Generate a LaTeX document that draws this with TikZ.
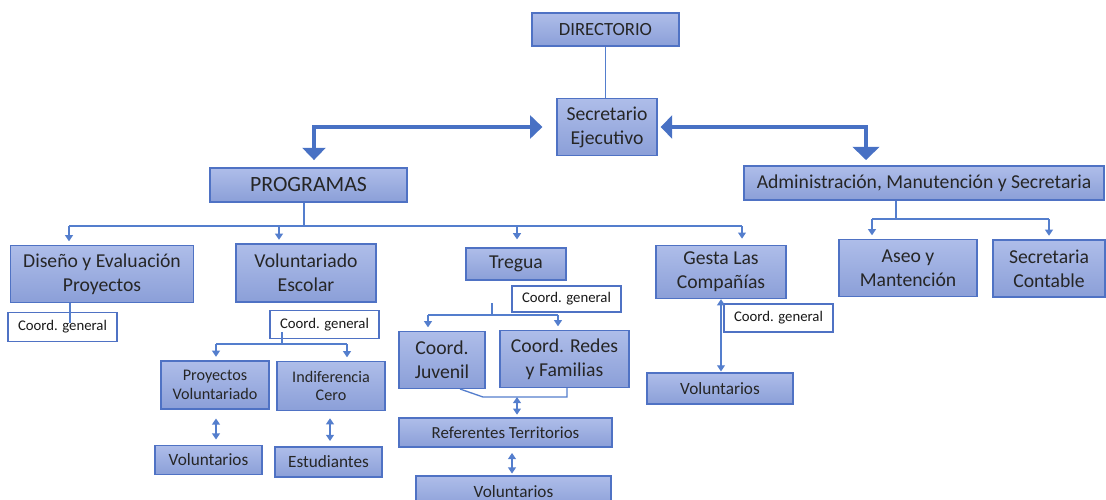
\documentclass[tikz,border=0pt]{standalone}
\usepackage{fontspec}
\setmainfont{Carlito}
\usetikzlibrary{arrows.meta}
\definecolor{boxline}{RGB}{79,114,196}
\definecolor{boxtop}{RGB}{174,189,233}
\definecolor{boxbot}{RGB}{139,159,216}
\definecolor{wire}{RGB}{84,126,205}
\definecolor{bigwire}{RGB}{72,113,196}

\begin{document}
\begin{tikzpicture}[x=0.02cm, y=-0.02cm,
    unit/.style ={draw=boxline, line width=0.8pt, top color=boxtop, bottom color=boxbot,
                  align=center, inner sep=1pt, text=black!85, font=\fontsize{11.2}{13.6}\selectfont},
    coord/.style ={draw=boxline, line width=0.8pt, fill=white, minimum width=2.18cm,
                   inner sep=1pt, text=black!90, font=\fontsize{8.4}{10}\selectfont},
    link/.style ={draw=wire, line width=0.75pt},
    onearrow/.style ={link, shorten >=2pt, -{Triangle[width=4.5pt,length=3.5pt]}},
    twoarrow/.style ={link, {Triangle[width=4.5pt,length=3.5pt]}-{Triangle[width=4.5pt,length=3.5pt]}},
    trunk/.style ={draw=bigwire, line width=2.2pt,
                   {Triangle[width=13pt,length=7pt]}-{Triangle[width=13pt,length=7pt]}}]
   \useasboundingbox (0,0) rectangle (1106,500);

   % top level
   \node[unit, minimum width=2.94cm, minimum height=0.66cm, font=\fontsize{10.6}{12}\selectfont] (dir) at (605.5,29.5) {DIRECTORIO};
   \node[unit, minimum width=2.0cm, minimum height=1.14cm] (sec) at (607,127) {Secretario\\Ejecutivo};
   \node[unit, minimum width=3.94cm, minimum height=0.68cm, font=\fontsize{12.4}{14}\selectfont] (prog) at (308.5,185) {PROGRAMAS};
   \node[unit, minimum width=7.2cm, minimum height=0.68cm] (adm) at (924,183) {Administración, Manutención y Secretaria};

   % programas
   \node[unit, minimum width=3.66cm, minimum height=1.14cm] (dis) at (102,274) {Diseño y Evaluación\\Proyectos};
   \node[unit, minimum width=2.8cm, minimum height=1.16cm] (vol) at (306,273) {Voluntariado\\Escolar};
   \node[unit, minimum width=2.0cm, minimum height=0.64cm] (tre) at (516,264) {Tregua};
   \node[unit, minimum width=2.6cm, minimum height=1.06cm] (ges) at (721,272) {Gesta Las\\Compañías};

   % administracion
   \node[unit, minimum width=2.76cm, minimum height=1.14cm] (ase) at (908,268) {Aseo y\\Mantención};
   \node[unit, minimum width=2.24cm, minimum height=1.14cm] (sct) at (1049,268.5) {Secretaria\\Contable};

   % coordinaciones
   \node[coord, minimum height=0.58cm] (cg1) at (62.5,327) {Coord. general};
   \node[coord, minimum height=0.56cm] (cg2) at (324.5,324.5) {Coord. general};
   \node[coord, minimum height=0.52cm] (cg3) at (566.5,299) {Coord. general};
   \node[coord, minimum height=0.56cm] (cg4) at (778.5,318) {Coord. general};

   % voluntariado escolar
   \node[unit, minimum width=2.16cm, minimum height=0.96cm, font=\fontsize{9.2}{10.4}\selectfont] (pvo) at (215,385) {Proyectos\\Voluntariado};
   \node[unit, minimum width=2.16cm, minimum height=0.98cm, font=\fontsize{9.2}{10.4}\selectfont] (ind) at (331,386) {Indiferencia\\Cero};
   \node[unit, minimum width=2.14cm, minimum height=0.58cm, font=\fontsize{9.8}{11}\selectfont] (vl1) at (208.5,460) {Voluntarios};
   \node[unit, minimum width=2.14cm, minimum height=0.60cm, font=\fontsize{9.8}{11}\selectfont] (est) at (328.5,462) {Estudiantes};

   % tregua
   \node[unit, minimum width=1.72cm, minimum height=1.14cm] (juv) at (442,360) {Coord.\\Juvenil};
   \node[unit, minimum width=2.58cm, minimum height=1.14cm] (red) at (564.5,359) {Coord. Redes\\y Familias};
   \node[unit, minimum width=4.26cm, minimum height=0.58cm, font=\fontsize{9.6}{11}\selectfont] (ref) at (505.5,432.5) {Referentes Territorios};
   \node[unit, minimum width=3.9cm, minimum height=0.64cm, font=\fontsize{9.8}{11}\selectfont] (vl2) at (513.5,492) {Voluntarios};

   % gesta
   \node[unit, minimum width=2.92cm, minimum height=0.62cm, font=\fontsize{9.8}{11}\selectfont] (vl3) at (720,388.5) {Voluntarios};

   \coordinate (pl) at (314,168);
   \coordinate (pr) at (866,166);
   \coordinate (p0) at (304,226);
   \coordinate (p1) at (69,226);
   \coordinate (p2) at (279,226);
   \coordinate (p3) at (517,226);
   \coordinate (p4) at (742,226);
   \coordinate (k1) at (70,323);
   \coordinate (k2) at (282,332);
   \coordinate (k2a) at (216,344);
   \coordinate (k2b) at (347,344);
   \coordinate (k3) at (492,303);
   \coordinate (k3a) at (428,315);
   \coordinate (k3b) at (558,315);
   \coordinate (r1) at (460,389);
   \coordinate (r2) at (483,397);
   \coordinate (r3) at (567,397);
   \coordinate (a0) at (896,219);
   \coordinate (a1) at (872,219);
   \coordinate (a2) at (1049,219);

   \draw[link] (dir) -- (dir |- sec.north);
   \draw[trunk, line width=2pt, shorten <=7.9pt, shorten >=4.5pt] (sec.west) -| (pl);
   \draw[trunk, line width=2.6pt, shorten <=1.7pt, shorten >=3.4pt,
         {Triangle[width=13pt,length=6.5pt]}-{Triangle[width=15pt,length=7.5pt]}] (sec.east) -| (pr);

   \draw[link] (p0 |- prog.south) -- (p0);
   \draw[link] (p1) -- (p4);
   \draw[onearrow] (p1) -- (p1 |- dis.north);
   \draw[onearrow] (p2) -- (p2 |- vol.north);
   \draw[onearrow, shorten >=4.5pt] (p3) -- (p3 |- tre.north);
   \draw[onearrow, shorten >=3.5pt] (p4) -- (p4 |- ges.north);

   \draw[link] (k1 |- dis.south) -- (k1);

   \draw[link] (k2) -- (k2 |- k2a);
   \draw[link] (k2a) -- (k2b);
   \draw[onearrow] (k2a) -- (k2a |- pvo.north);
   \draw[onearrow] (k2b) -- (k2b |- ind.north);
   \draw[twoarrow, shorten <=5pt, shorten >=3pt] (k2a |- pvo.south) -- (k2a |- vl1.north);
   \draw[twoarrow, shorten <=4pt, shorten >=3pt] (330,0 |- ind.south) -- (330,0 |- est.north);

   \draw[link] (k3) -- (k3 |- k3a);
   \draw[link] (k3a) -- (k3b);
   \draw[onearrow] (k3a) -- (k3a |- juv.north);
   \draw[onearrow] (k3b) -- (k3b |- red.north);
   \draw[link] (r1) -- (r2) -- (r3) -- (r3 |- red.south);
   \draw[twoarrow, shorten >=1.5pt] (517,0 |- r2) -- (517,0 |- ref.north);
   \draw[twoarrow, shorten <=3pt, shorten >=1pt] (512,0 |- ref.south) -- (512,0 |- vl2.north);

   \draw[twoarrow, shorten >=0.5pt] (ges) -- (ges |- vl3.north);

   \draw[link] (a0 |- adm.south) -- (a0);
   \draw[link] (a1) -- (a2);
   \draw[onearrow] (a1) -- (a1 |- ase.north);
   \draw[onearrow] (a2) -- (a2 |- sct.north);
 \end{tikzpicture}
\end{document}
